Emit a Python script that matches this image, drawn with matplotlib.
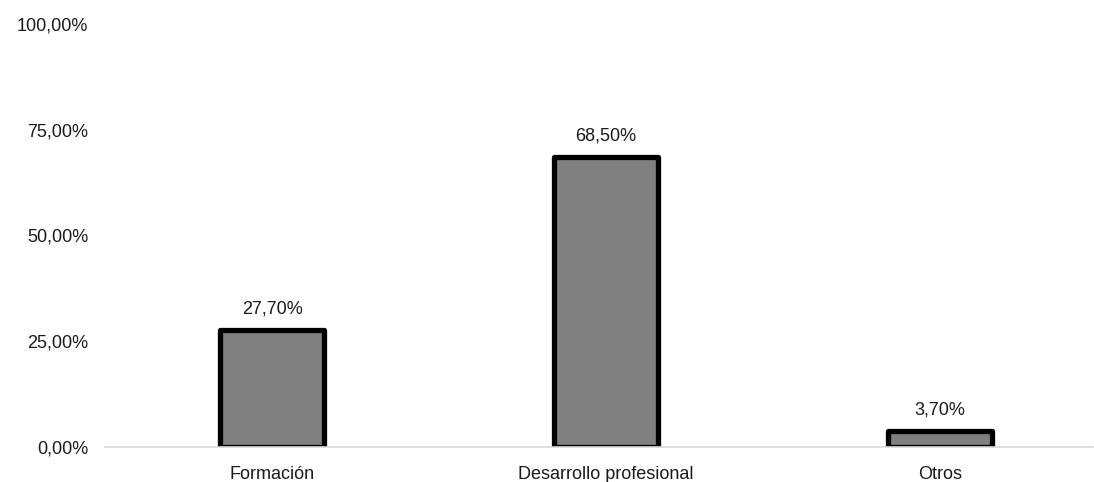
import matplotlib
matplotlib.use("Agg")
import matplotlib.pyplot as plt

categories = ["Formación", "Desarrollo profesional", "Otros"]
values = [27.70, 68.50, 3.70]
yticks = [0, 25, 50, 75, 100]
ytick_labels = ["0,00%", "25,00%", "50,00%", "75,00%", "100,00%"]

plt.rcParams['font.family'] = ['Liberation Sans', 'DejaVu Sans']

fig = plt.figure(figsize=(10.94, 4.82), dpi=100)
ax = fig.add_axes([105/1094, 35/482, 988/1094, 423/482])

x = list(range(len(categories)))
bars = ax.bar(x, values, width=0.31, color="#808080", edgecolor="black",
              linewidth=3.8, zorder=2)
for b in bars:
    b.set_joinstyle("round")

for xi, v in zip(x, values):
    ax.annotate(f"{v:.2f}".replace(".", ",") + "%", (xi, v),
                xytext=(0, 9), textcoords="offset points",
                ha="center", va="bottom", fontsize=13, color="#1a1a1a")

ax.set_xlim(-0.5, 2.458)
ax.set_ylim(0, 100)
ax.set_yticks(yticks)
ax.set_yticklabels(ytick_labels, fontsize=13, color="#1a1a1a")
ax.set_xticks(x)
ax.set_xticklabels(categories, fontsize=13, color="#1a1a1a")
ax.tick_params(axis="y", length=0, pad=12)
ax.tick_params(axis="x", length=0, pad=14)

for s in ["top", "right", "left"]:
    ax.spines[s].set_visible(False)
ax.spines["bottom"].set_color("#d9d9d9")
ax.spines["bottom"].set_linewidth(1.2)
ax.spines["bottom"].set_zorder(3)

fig.savefig("out.png", dpi=100)
